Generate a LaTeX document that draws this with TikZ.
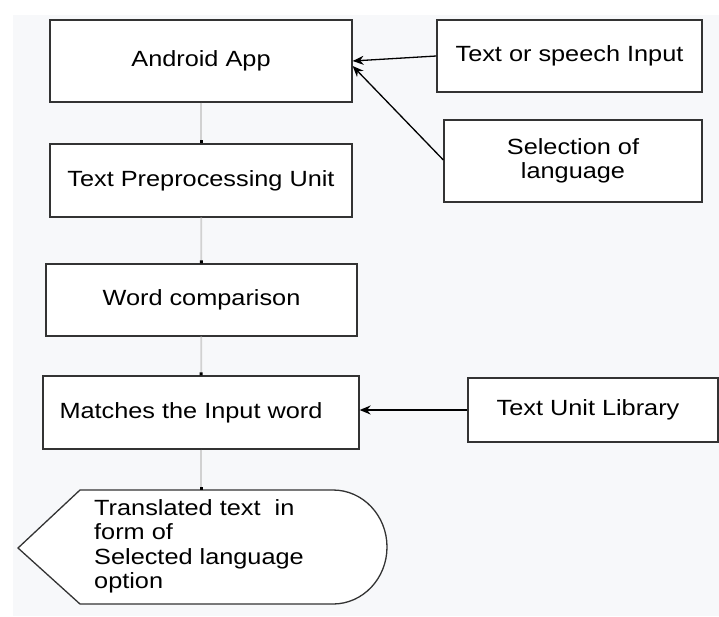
\documentclass[tikz,border=0pt]{standalone}
\usepackage{fontspec}
\setmainfont[FakeStretch=1.15]{Liberation Sans}
\usetikzlibrary{arrows.meta}
\definecolor{fond}{HTML}{F7F8FA}
\begin{document}
\begin{tikzpicture}[x=1pt,y=-1pt,
    bloc/.style={draw=black!80,line width=1.3pt,fill=white,inner sep=0pt,
        font=\fontsize{22}{24.5}\selectfont,align=center},
    fleche/.style={line width=1.3pt,-{Stealth[length=11pt,width=9pt]}},
    lien/.style={draw=black!18,line width=1.8pt,-{Rectangle[length=3pt,width=3pt,color=black]}}]
    \useasboundingbox (0,0) rectangle (719,616);
    \fill[fond] (13,15) rectangle (719,616);
    % colonne principale
    \node[bloc,minimum width=302,minimum height=82] (app) at (201,61) {Android App};
    \node[bloc,minimum width=302,minimum height=73] (prep) at (201,180.5) {Text Preprocessing Unit};
    \node[bloc,minimum width=311,minimum height=72] (comp) at (201.5,300) {Word comparison};
    \node[bloc,minimum width=316,minimum height=73] (match) at (201,412.5) {Matches the Input word\hspace*{20pt}};
    % entrees a droite
    \node[bloc,minimum width=265,minimum height=72] (input) at (569.5,56) {Text or speech Input};
    \node[bloc,minimum width=258,minimum height=82] (lang) at (573,161) {Selection of\\language};
    \node[bloc,minimum width=250,minimum height=64] (lib) at (593,410) {Text Unit Library\hspace*{10pt}};
    % sortie
    \draw[draw=black!80,line width=1.3pt,fill=white] (18,548) -- (80,490) -- (333,490)
        arc[start angle=-90,end angle=90,x radius=54,y radius=57] -- (80,604) -- cycle;
    \coordinate (outtop) at (201,490);
    \node[anchor=north west,inner sep=0pt,align=left,font=\fontsize{22}{24.5}\selectfont] (out) at (94,499)
        {Translated text\ \ in\\form of\\Selected language\\option};
    % liaisons
    \draw[fleche] (input.west) -- (app.east);
    \draw[fleche] ([yshift=1pt]lang.west) -- ([yshift=-5pt]app.east);
    \draw[fleche] (lib.west) -- (lib.west -| match.east);
    \draw[lien] (app) -- (prep);
    \draw[lien] (prep) -- (comp);
    \draw[lien] (comp) -- (match);
    \draw[lien] (match) -- (outtop);
\end{tikzpicture}
\end{document}
